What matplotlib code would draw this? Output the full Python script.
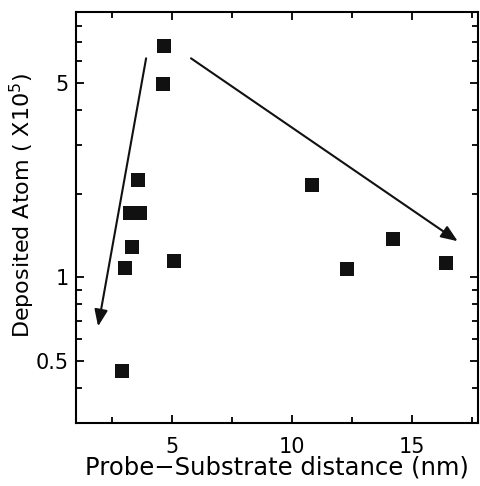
import matplotlib
matplotlib.use("Agg")
import matplotlib.pyplot as plt
from matplotlib.ticker import FixedLocator, FixedFormatter, NullFormatter

plt.rcParams['font.family'] = ['DejaVu Sans']

# data (distance in nm, deposited atoms in units of 1e5)
distance = [4.67, 4.62, 3.58, 3.25, 3.67, 3.33, 3.04, 5.08, 2.92, 10.83, 14.2, 12.29, 16.42]
deposited = [6.78, 4.96, 2.24, 1.71, 1.71, 1.29, 1.08, 1.15, 0.46, 2.15, 1.38, 1.07, 1.13]

# trend arrows (start -> end)
arrow_left = [(3.92, 6.14), (1.92, 0.667)]
arrow_right = [(5.79, 6.14), (16.9, 1.35)]

x_major = [5, 10, 15]
x_minor = [2.5, 7.5, 12.5, 17.5]
y_major = [0.5, 1, 5]
y_major_labels = ["0.5", "1", "5"]
y_minor = [0.4, 0.6, 0.7, 0.8, 0.9, 2, 3, 4, 6, 7, 8]

fig = plt.figure(figsize=(4.81, 4.86), dpi=100)
ax = fig.add_axes([0.158, 0.130, 0.836, 0.845])

ax.plot(distance, deposited, 's', color='#111111', markersize=10.5, markeredgewidth=0)

for (x0, y0), (x1, y1) in [arrow_left, arrow_right]:
    ax.annotate("", xy=(x1, y1), xytext=(x0, y0),
                arrowprops=dict(arrowstyle="-|>,head_length=1.0,head_width=0.4",
                                color='#111111', lw=1.5, shrinkA=0, shrinkB=0))

ax.set_yscale('log')
ax.set_xlim(1.0, 17.75)
ax.set_ylim(0.3, 9.0)

ax.xaxis.set_major_locator(FixedLocator(x_major))
ax.xaxis.set_minor_locator(FixedLocator(x_minor))
ax.yaxis.set_major_locator(FixedLocator(y_major))
ax.yaxis.set_major_formatter(FixedFormatter(y_major_labels))
ax.yaxis.set_minor_locator(FixedLocator(y_minor))
ax.yaxis.set_minor_formatter(NullFormatter())

ax.tick_params(which='both', direction='in', top=True, right=True, width=1.3)
ax.tick_params(which='major', length=6, labelsize=15)
ax.tick_params(axis='x', which='major', pad=10)
ax.tick_params(axis='y', which='major', pad=5)
ax.tick_params(which='minor', length=4)
for s in ax.spines.values():
    s.set_linewidth(1.5)

ax.set_xlabel("Probe\u2212Substrate distance (nm)", fontsize=17.5, labelpad=-1)
ax.set_ylabel("Deposited Atom ( X10$^5$)", fontsize=16)
ax.yaxis.set_label_coords(-0.097, 0.53)

fig.savefig("out.png", dpi=100)
